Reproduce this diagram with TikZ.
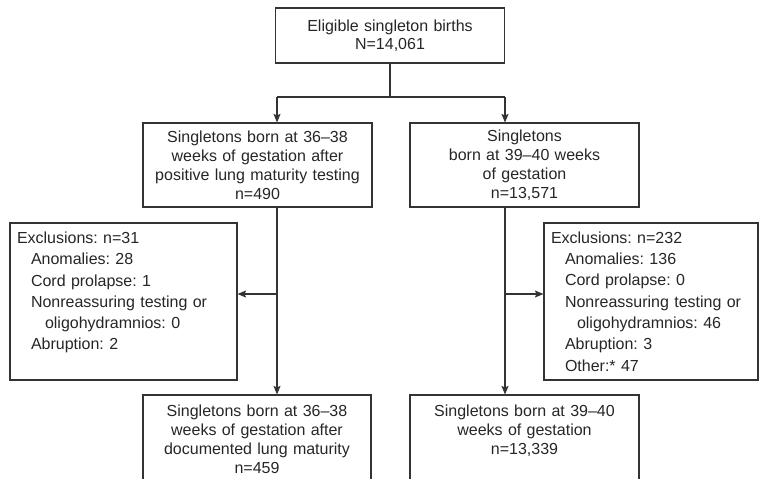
\documentclass[tikz,border=0pt]{standalone}
\usepackage{fontspec}
\setmainfont{Liberation Sans}
\usetikzlibrary{arrows.meta}
\frenchspacing

\begin{document}
\begin{tikzpicture}[x=1pt,y=-1pt,
  box/.style={draw=black!80,line width=1.1pt,text=black!85,align=center,
    inner xsep=6pt,inner ysep=0pt,font={\fontsize{16}{19}\selectfont}},
  exclbox/.style={box,align=left,inner xsep=7pt,font={\fontsize{16}{21.3}\selectfont}},
  arr/.style={draw=black!80,line width=1.1pt,-{Stealth[length=8.5pt,width=7pt,inset=1.5pt]}},
  link/.style={draw=black!80,line width=1.1pt}]
\useasboundingbox (0,0) rectangle (760,479);

% Eligible births
\node[box,minimum width=229pt,minimum height=55pt,text width=217pt,
  font={\fontsize{16}{18}\selectfont}] (top) at (390,35.5)
  {Eligible singleton births\\N=14,061};

% Split into two gestation groups
\coordinate (forkL) at (277,97);
\coordinate (forkR) at (505,97);
\node[box,minimum width=229pt,minimum height=84pt,text width=217pt] (midL) at (257.5,165)
  {Singletons born at 36--38\\weeks of gestation after\\positive lung maturity testing\\n=490};
\node[box,minimum width=229pt,minimum height=84pt,text width=217pt] (midR) at (524.5,165)
  {Singletons\\born at 39--40 weeks\\of gestation\\n=13,571};

% Exclusions
\node[exclbox,minimum width=227pt,minimum height=157pt,text width=213pt] (exL) at (123.5,301.5)
  {Exclusions: n=31\\
   \hspace*{14pt}Anomalies: 28\\
   \hspace*{14pt}Cord prolapse: 1\\
   \hspace*{14pt}Nonreassuring testing or\\
   \hspace*{28pt}oligohydramnios: 0\\
   \hspace*{14pt}Abruption: 2\\
   \mbox{}};
\node[exclbox,minimum width=214pt,minimum height=157pt,text width=200pt] (exR) at (651,301.5)
  {Exclusions: n=232\\
   \hspace*{14pt}Anomalies: 136\\
   \hspace*{14pt}Cord prolapse: 0\\
   \hspace*{14pt}Nonreassuring testing or\\
   \hspace*{26pt}oligohydramnios: 46\\
   \hspace*{14pt}Abruption: 3\\
   \hspace*{14pt}Other:* 47};

% Final cohorts
\node[box,minimum width=228pt,minimum height=88pt,text width=216pt] (botL) at (257,439)
  {Singletons born at 36--38\\weeks of gestation after\\documented lung maturity\\n=459};
\node[box,minimum width=229pt,minimum height=88pt,text width=217pt] (botR) at (524.5,439)
  {Singletons born at 39--40\\weeks of gestation\\n=13,339\\\mbox{}};

% Connectors
\draw[link] (top.south) -- (top.south |- forkL);
\draw[link] (forkL) -- (forkR);
\draw[arr] (forkL) -- (forkL |- midL.north);
\draw[arr] (forkR) -- (forkR |- midR.north);
\draw[arr] (forkL |- midL.south) -- (forkL |- botL.north);
\draw[arr] (forkR |- midR.south) -- (forkR |- botR.north);
\coordinate (exitL) at (277,294);
\coordinate (exitR) at (505,294);
\draw[arr] (exitL) -- (exitL -| exL.east);
\draw[arr] (exitR) -- (exitR -| exR.west);
\end{tikzpicture}
\end{document}
